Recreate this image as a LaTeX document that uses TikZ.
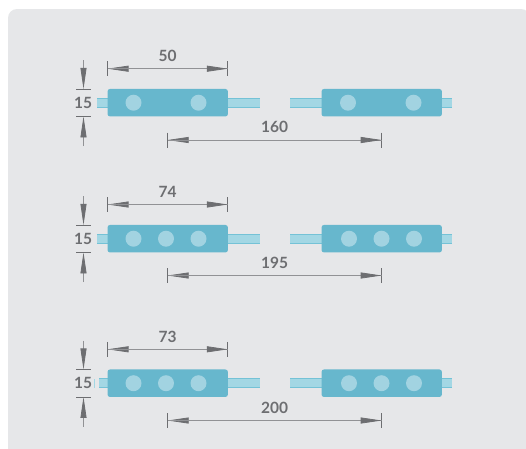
\documentclass[tikz,border=0pt]{standalone}
\usepackage{fontspec}
\setmainfont{Lato}
\usetikzlibrary{arrows.meta}
\definecolor{panel}{HTML}{E6E7E9}
\definecolor{modc}{HTML}{67B7CD}
\definecolor{ledc}{HTML}{A2D3E1}
\definecolor{wirec}{HTML}{A3D7E4}
\definecolor{wireb}{HTML}{74C2D6}
\definecolor{dimc}{HTML}{6D6E71}
\tikzset{
  module/.style={fill=modc,draw=none,rounded corners=2.5pt,minimum width=120.4pt,minimum height=27.5pt,inner sep=0pt},
  led/.style={circle,fill=ledc,draw=none,minimum size=16pt,inner sep=0pt},
  wire/.style={fill=wirec,draw=none},
  wireedge/.style={draw=wireb,line width=1pt},
  tickl/.style={draw=dimc,line width=.7pt},
  dimarrow/.style={draw=dimc!75,line width=.8pt,-{Triangle[length=21pt,width=6pt,color=dimc,fill=dimc]}},
  label/.style={text=dimc,font=\fontsize{15.5}{17}\selectfont\bfseries,inner sep=0pt},
}
\newcommand{\ledrow}[7]{%
 % #1 row id, #2 centre y, #3 left wire start, #4 width label, #5 width dim y, #6 span label, #7 span y
 \path[wire] (#3,#2-4.5) rectangle (108,#2+4.5);
 \draw[wireedge] (#3,#2+4.5) -- (108,#2+4.5) (#3,#2-4.5) -- (108,#2-4.5);
 \path[wire] (228,#2-4.5) rectangle (260,#2+4.5);
 \draw[wireedge] (228,#2+4.5) -- (260,#2+4.5) (228,#2-4.5) -- (260,#2-4.5);
 \path[wire] (290,#2-4.5) rectangle (322,#2+4.5);
 \draw[wireedge] (290,#2+4.5) -- (322,#2+4.5) (290,#2-4.5) -- (322,#2-4.5);
 \path[wire] (442,#2-4.5) rectangle (452,#2+4.5);
 \draw[wireedge] (442,#2+4.5) -- (452,#2+4.5) (442,#2-4.5) -- (452,#2-4.5);
 \node[module] (m#1a) at (167.7,#2) {};
 \node[module] (m#1b) at (381.7,#2) {};
 % width dimension
 \coordinate (wl#1) at (107.6,#5);
 \coordinate (wr#1) at (227.8,#5);
 \draw[tickl] (107.6,#5-7.5) -- (107.6,#5+7.5);
 \draw[tickl] (227.8,#5-7.5) -- (227.8,#5+7.5);
 \draw[dimarrow] (wr#1) -- (wl#1);
 \draw[dimarrow] (wl#1) -- (wr#1);
 \node[label] (wt#1) at (167.5,#5-12.8) {#4};
 % span dimension
 \coordinate (sl#1) at (167.7,#7);
 \coordinate (sr#1) at (381.7,#7);
 \draw[tickl] (167.7,#7-7.5) -- (167.7,#7+7.5);
 \draw[tickl] (381.7,#7-7.5) -- (381.7,#7+7.5);
 \draw[dimarrow] (sr#1) -- (sl#1);
 \draw[dimarrow] (sl#1) -- (sr#1);
 \node[label] (st#1) at (274.5,#7-12.8) {#6};
 % height dimension
 \coordinate (ht#1) at (83.5,#2-13.75);
 \coordinate (hb#1) at (83.5,#2+13.75);
 \coordinate (hts#1) at (83.5,#2-42.5);
 \coordinate (hbs#1) at (83.5,#2+43.5);
 \draw[tickl] (76,#2-13.75) -- (91,#2-13.75);
 \draw[tickl] (76,#2+13.75) -- (91,#2+13.75);
 \draw[dimarrow] (hts#1) -- (ht#1);
 \draw[dimarrow] (hbs#1) -- (hb#1);
 \node[label] (ht#1l) at (83,#2) {15};
}
\begin{document}
\begin{tikzpicture}[x=1pt,y=-1pt]
\useasboundingbox (0,0) rectangle (526,448);
\fill[white] (0,0) rectangle (526,448);
\fill[panel,rounded corners=9pt] (8,9) rectangle (530,480);
\ledrow{1}{102.7}{97}{50}{68.7}{160}{140}
\ledrow{2}{238.7}{97}{74}{204.5}{195}{275.5}
\ledrow{3}{383.2}{99}{73}{349.3}{200}{420.5}
\fill[wirec] (94,378.5) rectangle (95,388);
\foreach \r/\y in {1/102.7}{
  \node[led] (a\r) at (133.5,\y) {};
  \node[led] (b\r) at (198.5,\y) {};
  \node[led] (c\r) at (348,\y) {};
  \node[led] (d\r) at (413.5,\y) {};
}
\foreach \r/\y in {2/238.7,3/383.2}{
  \node[led] (a\r) at (133.5,\y) {};
  \node[led] (e\r) at (166,\y) {};
  \node[led] (b\r) at (198.5,\y) {};
  \node[led] (c\r) at (349,\y) {};
  \node[led] (f\r) at (381.5,\y) {};
  \node[led] (d\r) at (414,\y) {};
}
\end{tikzpicture}
\end{document}
